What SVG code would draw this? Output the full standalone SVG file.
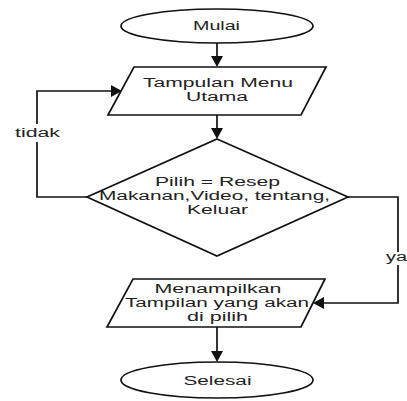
<svg xmlns="http://www.w3.org/2000/svg" width="407" height="401" viewBox="0 0 407 401">
<defs>
<style>
.s{fill:#fff;stroke:#111;stroke-width:1.7}
.c{fill:none;stroke:#111;stroke-width:1.7}
.h{fill:#111}
.t{font-family:"Liberation Sans",Arial,sans-serif;font-size:12px;fill:#222;text-anchor:middle}
</style>
</defs>
<rect width="407" height="401" fill="#fff"/>
<g id="connectors">
<line class="c" x1="217" y1="43" x2="217" y2="57"/>
<path class="h" d="M211,56 L223,56 L217,67 z"/>
<line class="c" x1="217" y1="115" x2="217" y2="129"/>
<path class="h" d="M211,128 L223,128 L217,139 z"/>
<polyline class="c" points="87,197 37,197 37,91 112,91"/>
<path class="h" d="M111,85 L122,91 L111,97 z"/>
<polyline class="c" points="348,197 398,197 398,303 324,303"/>
<path class="h" d="M324,297 L313,303 L324,309 z"/>
<line class="c" x1="217" y1="327" x2="217" y2="352"/>
<path class="h" d="M211,351 L223,351 L217,362 z"/>
<rect x="12" y="124" width="50" height="18" fill="#fff"/>
<text class="t" x="37.5" y="137" textLength="45" lengthAdjust="spacingAndGlyphs">tidak</text>
<rect x="386" y="252" width="21" height="13" fill="#fff"/>
<text class="t" x="396.5" y="261" textLength="21" lengthAdjust="spacingAndGlyphs">ya</text>
</g>
<g id="mulai">
<ellipse class="s" cx="217" cy="26" rx="96" ry="17"/>
<text class="t" x="216.5" y="30" textLength="47" lengthAdjust="spacingAndGlyphs">Mulai</text>
</g>
<g id="menu">
<polygon class="s" points="134,67 326,67 301,115 108,115"/>
<text class="t" x="218" y="87" textLength="150" lengthAdjust="spacingAndGlyphs">Tampulan Menu</text>
<text class="t" x="217" y="101" textLength="62" lengthAdjust="spacingAndGlyphs">Utama</text>
</g>
<g id="pilih">
<polygon class="s" points="217,139 348,197 217,256 87,197"/>
<text class="t" x="217.5" y="186" textLength="125" lengthAdjust="spacingAndGlyphs">Pilih = Resep</text>
<text class="t" x="214.5" y="200" textLength="231" lengthAdjust="spacingAndGlyphs">Makanan,Video, tentang,</text>
<text class="t" x="217.5" y="214" textLength="61" lengthAdjust="spacingAndGlyphs">Keluar</text>
</g>
<g id="tampilan">
<polygon class="s" points="133,279 325,279 301,327 107,327"/>
<text class="t" x="218" y="293" textLength="127" lengthAdjust="spacingAndGlyphs">Menampilkan</text>
<text class="t" x="217" y="307" textLength="184" lengthAdjust="spacingAndGlyphs">Tampilan yang akan</text>
<text class="t" x="217.5" y="321" textLength="61" lengthAdjust="spacingAndGlyphs">di pilih</text>
</g>
<g id="selesai">
<ellipse class="s" cx="217" cy="380" rx="96" ry="18"/>
<text class="t" x="217.5" y="385" textLength="68" lengthAdjust="spacingAndGlyphs">Selesai</text>
</g>
</svg>
